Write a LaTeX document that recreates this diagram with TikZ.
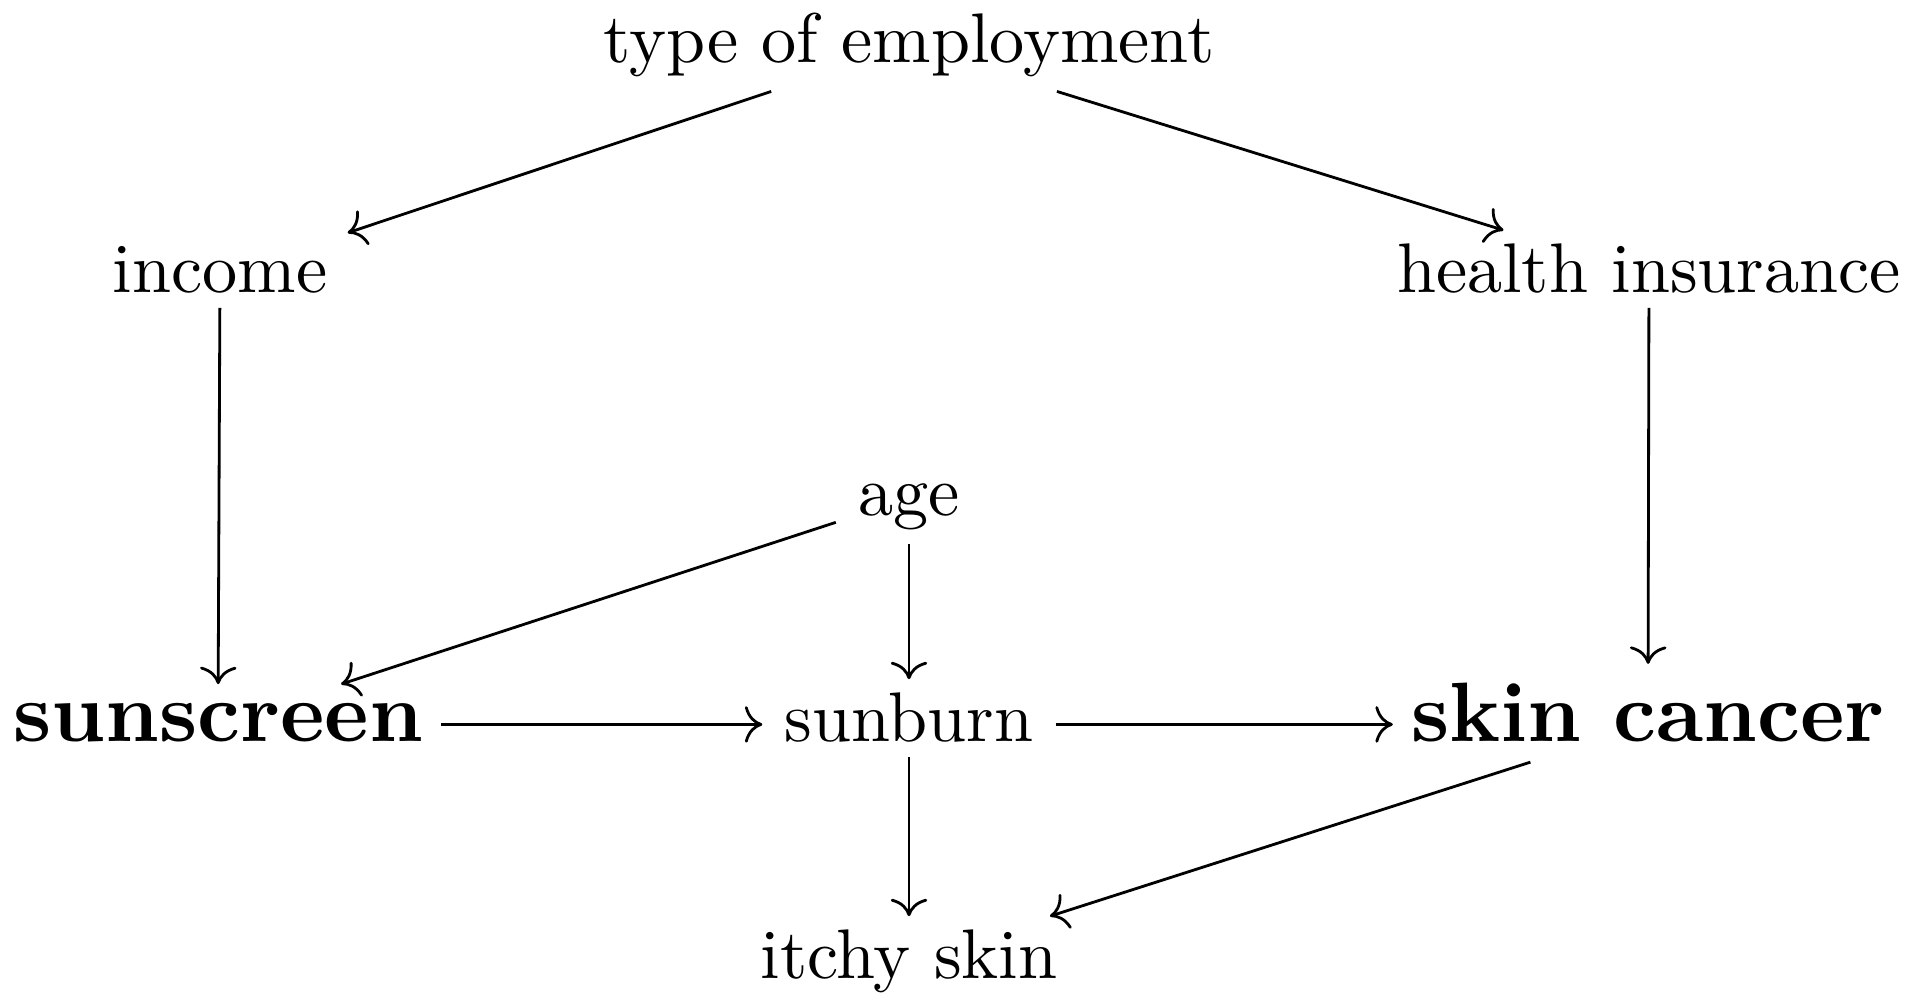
\documentclass[tikz,border=0pt]{standalone}
\usepackage{graphicx}
\usepackage{tikz}
\usetikzlibrary{arrows.meta,positioning,cd}
\newcommand{\keyvar}[1]{\scalebox{1.2}{\textbf{#1}}}
\tikzset{
  var/.style={shape=asymmetrical rectangle,anchor=base,inner xsep=3pt,inner ysep=1.8pt},
  key/.style={var,inner xsep=2.4pt,inner ysep=2.6pt},
  cause/.style={-{cm to},draw=black}
}
\begin{document}
\begin{tikzpicture}[x=0.005cm,y=-0.005cm]
  \useasboundingbox (0,0) rectangle (1914,994);
  \node[var] (employ) at (909,63) {type of employment};
  \node[var] (income) at (220,293) {income};
  \node[var] (insur) at (1649,293) {health insurance};
  \node[var] (age) at (909,516) {age};
  \node[key] (sunscreen) at (218,742) {\keyvar{sunscreen}};
  \node[var] (sunburn) at (909,742) {sunburn};
  \node[key] (cancer) at (1648,742) {\keyvar{skin cancer}};
  \node[var] (itchy) at (909,979) {itchy skin};
  \draw[cause] (employ)--(income); \draw[cause] (employ)--(insur);
  \draw[cause] (income)--(sunscreen); \draw[cause] (insur)--(cancer);
  \draw[cause] (age)--(sunscreen); \draw[cause] (age)--(sunburn);
  \draw[cause] (sunscreen)--(sunburn); \draw[cause] (sunburn)--(cancer);
  \draw[cause] (sunburn)--(itchy); \draw[cause] (cancer)--(itchy);
\end{tikzpicture}
\end{document}
